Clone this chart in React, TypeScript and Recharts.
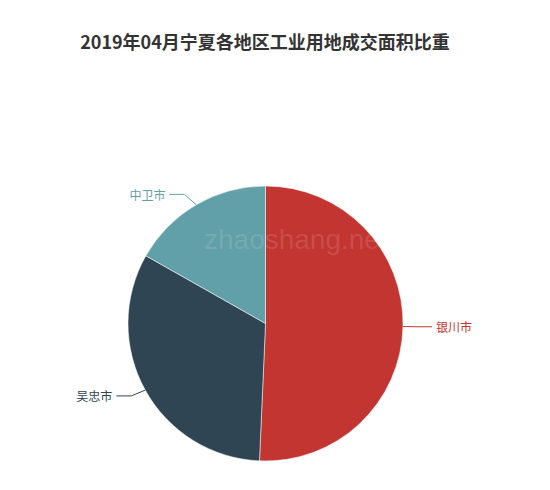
import { PieChart, Pie, Cell } from "recharts";

// ================= DATA =================
const regions = ["银川市", "吴忠市", "中卫市"];
const shares = [50.7, 32.5, 16.8];
const colors = ["#c23531", "#2f4554", "#61a0a8"];

const data = regions.map((name, i) => ({ name, value: shares[i] }));

const RAD = Math.PI / 180;

// ================= LABEL =================
// label lines: short radial leg, elbow pulled onto an ellipse, then a flat leg
// eslint-disable-next-line
function renderLabel(props: any) {
  const { cx, cy, outerRadius, midAngle, index, name } = props;
  const color = colors[index];
  const cos = Math.cos(-midAngle * RAD);
  const sin = Math.sin(-midAngle * RAD);
  const sx = cx + outerRadius * cos;
  const sy = cy + outerRadius * sin;
  const my = cy + (outerRadius + 12) * sin;
  const right = cos >= 0;
  const R = outerRadius + 15;
  const dy = my - cy;
  const mx = cx + (right ? 1 : -1) * Math.sqrt(Math.max(R * R - dy * dy, 0));
  const ex = mx + (right ? 14 : -15);

  return (
    <g key={`label-${index}`}>
      <path
        d={`M${sx},${sy}L${mx},${my}L${ex},${my}`}
        stroke={color}
        fill="none"
      />
      <text
        x={ex + (right ? 4 : -4)}
        y={my}
        textAnchor={right ? "start" : "end"}
        dominantBaseline="central"
        fontSize={12}
        fill={color}
        fontFamily="'Noto Sans CJK SC', sans-serif"
      >
        {name}
      </text>
    </g>
  );
}

export default function App() {
  return (
    <div
      style={{
        position: "absolute",
        left: 0,
        top: 0,
        width: 550,
        height: 490,
        background: "#fff",
        fontFamily: "'Noto Sans CJK SC', sans-serif",
      }}
    >
      <div
        style={{
          position: "absolute",
          top: 27,
          left: 0,
          width: 530,
          textAlign: "center",
          fontSize: 18,
          fontWeight: "bold",
          color: "#333",
          lineHeight: "28px",
        }}
      >
        2019年04月宁夏各地区工业用地成交面积比重
      </div>

      <PieChart
        width={550}
        height={490}
        margin={{ top: 0, right: 0, bottom: 0, left: 0 }}
      >
        <Pie
          data={data}
          dataKey="value"
          nameKey="name"
          cx={265.5}
          cy={323.5}
          outerRadius={137.5}
          startAngle={90}
          endAngle={-270}
          label={renderLabel}
          labelLine={false}
          stroke="rgba(255,255,255,0.5)"
          strokeWidth={1}
          isAnimationActive={false}
        >
          {data.map((entry, index) => (
            <Cell key={entry.name} fill={colors[index]} />
          ))}
        </Pie>
      </PieChart>

      <div
        style={{
          position: "absolute",
          left: 204,
          top: 222,
          fontSize: 28,
          fontFamily: "'Liberation Sans', Arial, sans-serif",
          color: "rgba(255,255,255,0.12)",
          pointerEvents: "none",
          lineHeight: "36px",
        }}
      >
        zhaoshang.net
      </div>
    </div>
  );
}
